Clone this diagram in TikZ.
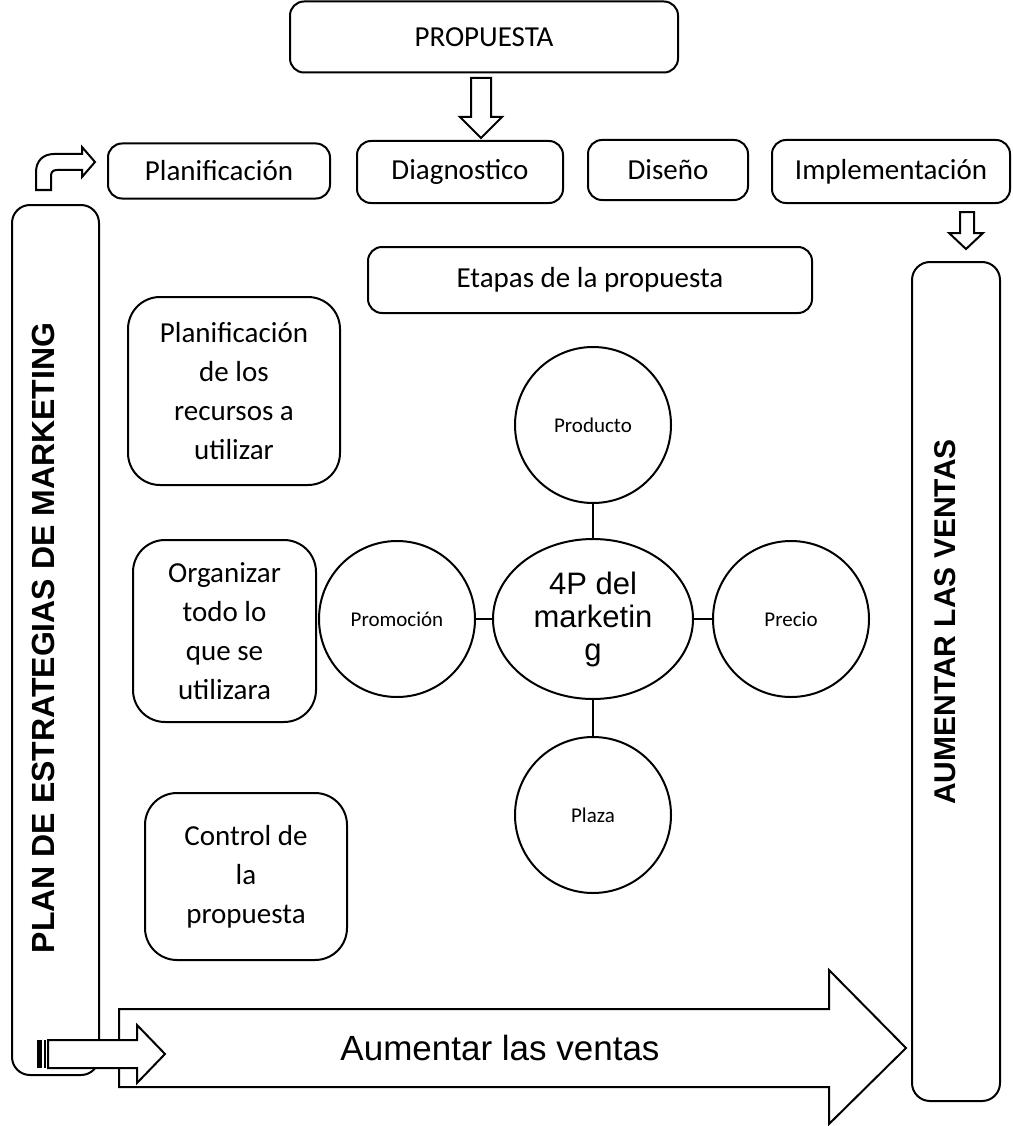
\documentclass[tikz,border=0pt]{standalone}
\usepackage{fontspec}
\setmainfont{Carlito}
\newfontfamily\arialfont{Liberation Sans}
\usetikzlibrary{shapes.geometric}
\begin{document}
\begin{tikzpicture}[x=1pt, y=-1pt, line width=2pt,
	box/.style={draw, rounded corners=14pt, inner sep=0pt, align=center, font=\fontsize{29}{39}\selectfont},
	txtbox/.style={box, rounded corners=32pt},
	tallbox/.style={draw, rounded corners=18pt, inner sep=0pt},
	vtext/.style={rotate=90, inner sep=0pt, font=\arialfont\bfseries\fontsize{32}{36}\selectfont},
	pcircle/.style={draw, circle, minimum size=156pt, inner sep=0pt, font=\fontsize{21}{24}\selectfont},
	blockarrow/.style={draw, fill=white, line join=miter}]
		\useasboundingbox (0,0) rectangle (1012,1126);
		% top row
		\node[box, minimum width=388pt, minimum height=71pt] (propuesta) at (484,37) {PROPUESTA};
		\node[box, minimum width=222pt, minimum height=55pt] (planif) at (219,171) {Planificación};
		\node[box, minimum width=206pt, minimum height=62pt] (diag) at (460,172) {Diagnostico};
		\node[box, minimum width=160pt, minimum height=60pt] (diseno) at (668,170) {Diseño};
		\node[box, minimum width=238pt, minimum height=63pt] (implem) at (891,171.5) {Implementación};
		\node[box, minimum width=444pt, minimum height=66pt] (etapas) at (590,280) {Etapas de la propuesta};
		% left column
		\node[txtbox, minimum width=212pt, minimum height=188pt] (recursos) at (234,391) {Planificación\\de los\\recursos a\\utilizar};
		\node[txtbox, minimum width=183pt, minimum height=182pt] (organizar) at (224.5,631) {Organizar\\todo lo\\que se\\utilizara};
		\node[txtbox, minimum width=202pt, minimum height=167pt] (control) at (246,876.5) {Control de\\la\\propuesta};
		% 4P
		\node[draw, ellipse, minimum width=200pt, minimum height=160pt, inner sep=0pt, align=center,
			font=\arialfont\fontsize{31}{33}\selectfont] (cuatrop) at (593,619) {4P del\\marketin\\g};
		\node[pcircle] (producto) at (593,425) {Producto};
		\node[pcircle] (promocion) at (397,619) {Promoción};
		\node[pcircle] (precio) at (791,619) {Precio};
		\node[pcircle] (plaza) at (593,815) {Plaza};
		\draw (producto) -- (cuatrop);
		\draw (promocion) -- (cuatrop);
		\draw (precio) -- (cuatrop);
		\draw (plaza) -- (cuatrop);
		% tall boxes
		\node[tallbox, minimum width=87pt, minimum height=870pt] (plan) at (55.5,640) {};
		\node[vtext] (plantxt) at (43.5,638) {PLAN DE ESTRATEGIAS DE MARKETING};
		\node[tallbox, minimum width=88pt, minimum height=839pt] (aumentar) at (956,681.5) {};
		\node[vtext, font=\arialfont\bfseries\fontsize{30}{36}\selectfont] (aumtxt) at (945,622) {AUMENTAR LAS VENTAS};
		% block arrows
		\draw[blockarrow] (471,78) -- (491,78) -- (491,117) -- (502,117) -- (481,138) -- (460,117) -- (471,117) -- cycle;
		\draw[blockarrow] (960,212) -- (974,212) -- (974,233) -- (983,233) -- (966,249) -- (949,233) -- (960,233) -- cycle;
		\draw[blockarrow] (36,190) -- (36,172) .. controls (36,161) and (43,154) .. (54,154) -- (82,154) -- (82,147)
			-- (95,162) -- (82,177) -- (82,170) -- (57,170) .. controls (53,170) and (51,172) .. (51,176) -- (51,190) -- cycle;
		\draw[blockarrow] (119,1009) -- (829,1009) -- (829,970) -- (906,1048) -- (829,1124) -- (829,1087) -- (119,1087) -- cycle;
		\node[font=\arialfont\fontsize{35}{40}\selectfont] (ventas) at (500,1048) {Aumentar las ventas};
		\fill (37,1040) rectangle (42,1068);
		\fill (44,1040) rectangle (46,1068);
		\draw[blockarrow] (48,1040) -- (137,1040) -- (137,1025) -- (165,1054) -- (137,1083) -- (137,1068) -- (48,1068) -- cycle;
	\end{tikzpicture}
\end{document}
